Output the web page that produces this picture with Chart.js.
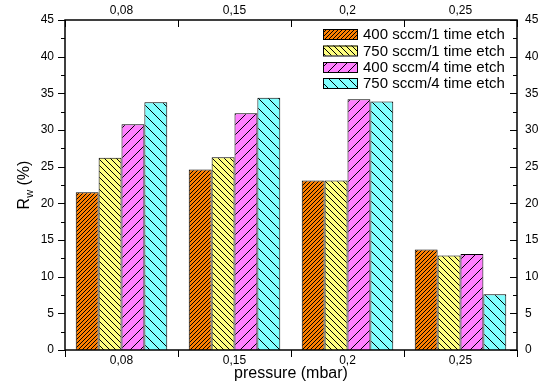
<!DOCTYPE html>
<html>
<head>
<meta charset="utf-8">
<script src="https://cdn.jsdelivr.net/npm/chart.js@4"></script>
<style>
  html, body { margin: 0; padding: 0; background: #fff; }
  #wrap { width: 542px; height: 383px; }
</style>
</head>
<body>
<div id="wrap"><canvas id="myChart" width="542" height="383"></canvas></div>
<script>
const categories = ['0,08', '0,15', '0,2', '0,25'];
const seriesNames = ['400 sccm/1 time etch', '750 sccm/1 time etch', '400 sccm/4 time etch', '750 sccm/4 time etch'];
const s400x1 = [21.5, 24.6, 23.1, 13.7];
const s750x1 = [26.2, 26.3, 23.1, 12.9];
const s400x4 = [30.8, 32.3, 34.2, 13.1];
const s750x4 = [33.8, 34.4, 33.9, 7.6];
const yTicks = [0, 5, 10, 15, 20, 25, 30, 35, 40, 45];

const FONT = 'Liberation Sans, Arial, sans-serif';

// hatch pattern: dir 1 = "/", -1 = "\"
function hatch(bg, dir, size) {
    const c = document.createElement('canvas');
    c.width = size; c.height = size;
    const g = c.getContext('2d');
    g.fillStyle = bg;
    g.fillRect(0, 0, size, size);
    g.strokeStyle = '#000';
    g.lineWidth = 1;
    g.beginPath();
    for (let k = -1; k <= 1; k++) {
        if (dir > 0) {
            g.moveTo(k * size, size);
            g.lineTo(k * size + size, 0);
        } else {
            g.moveTo(k * size, 0);
            g.lineTo(k * size + size, size);
        }
    }
    g.stroke();
    return g.createPattern(c, 'repeat');
}

const ctx = document.getElementById('myChart').getContext('2d');

const fills = [
    hatch('#ff8000', 1, 4),
    hatch('#ffff80', -1, 6),
    hatch('#ff80ff', 1, 10),
    hatch('#80ffff', -1, 10)
];

const allValues = [s400x1, s750x1, s400x4, s750x4];

const data = {
    labels: categories,
    datasets: allValues.map((vals, i) => ({
        label: seriesNames[i],
        data: vals,
        backgroundColor: fills[i],
        borderColor: '#000',
        borderWidth: 1,
        categoryPercentage: 0.81,
        barPercentage: 1.0
    }))
};

// frame, tick marks, legend and y title
const framePlugin = {
    id: 'frame',
    afterDraw(chart) {
        const c = chart.ctx;
        const a = chart.chartArea;
        const y = chart.scales.y;
        const x = chart.scales.x;
        c.save();
        c.strokeStyle = '#000';
        c.lineWidth = 1.5;
        c.strokeRect(a.left, a.top, a.right - a.left, a.bottom - a.top);
        c.lineWidth = 1;
        c.beginPath();
        // y ticks, major + minor
        for (let v = 0; v <= 45; v += 2.5) {
            const py = Math.round(y.getPixelForValue(v)) + 0.5;
            const len = (v % 5 === 0) ? 7 : 4;
            c.moveTo(a.left - len, py); c.lineTo(a.left, py);
            c.moveTo(a.right, py); c.lineTo(a.right - len, py);
        }
        // x ticks at category boundaries
        const step = x.getPixelForValue(1) - x.getPixelForValue(0);
        for (let i = 0; i <= categories.length; i++) {
            const px = Math.round(x.getPixelForValue(0) - step / 2 + i * step) + 0.5;
            c.moveTo(px, a.bottom); c.lineTo(px, a.bottom + 7);
            c.moveTo(px, a.top); c.lineTo(px, a.top + 7);
        }
        c.stroke();

        // legend
        c.font = '15px ' + FONT;
        c.textBaseline = 'middle';
        c.fillStyle = '#000';
        const rows = [34, 50.5, 67, 83];
        chart.data.datasets.forEach((ds, i) => {
            const ry = rows[i];
            c.fillStyle = ds.backgroundColor;
            c.fillRect(323, ry - 5, 34, 10);
            c.strokeRect(323.5, ry - 5 + 0.5, 34, 10);
            c.fillStyle = '#000';
            c.fillText(ds.label, 363, ry + 1);
        });

        // y axis title with subscript
        c.translate(24, (a.top + a.bottom) / 2);
        c.rotate(-Math.PI / 2);
        c.textBaseline = 'alphabetic';
        c.textAlign = 'left';
        c.font = '16px ' + FONT;
        const wR = c.measureText('R').width;
        c.font = '11px ' + FONT;
        const wW = c.measureText('w').width;
        c.font = '16px ' + FONT;
        const wP = c.measureText(' (%)').width;
        let sx = -(wR + wW + wP) / 2;
        c.fillText('R', sx, 5);
        c.font = '11px ' + FONT;
        c.fillText('w', sx + wR, 9);
        c.font = '16px ' + FONT;
        c.fillText(' (%)', sx + wR + wW, 5);
        c.restore();
    }
};

const config = {
    type: 'bar',
    data: data,
    options: {
        responsive: false,
        animation: false,
        layout: { padding: 0 },
        plugins: {
            legend: { display: false },
            tooltip: { enabled: false }
        },
        scales: {
            x: {
                position: 'bottom',
                grid: { display: false, drawTicks: false },
                border: { display: false },
                ticks: { color: '#000', font: { family: FONT, size: 12 }, padding: 3 },
                title: { display: true, text: 'pressure (mbar)', color: '#000', font: { family: FONT, size: 16 }, padding: { top: 0, bottom: 0 } },
                afterFit(s) { s.height = 33; }
            },
            x2: {
                position: 'top',
                type: 'category',
                labels: categories,
                offset: true,
                grid: { display: false, drawTicks: false },
                border: { display: false },
                ticks: { color: '#000', font: { family: FONT, size: 12 }, padding: 2 },
                afterFit(s) { s.height = 20; }
            },
            y: {
                position: 'left',
                min: 0,
                max: 45,
                grid: { display: false, drawTicks: false },
                border: { display: false },
                ticks: { color: '#000', font: { family: FONT, size: 12 }, stepSize: 5, padding: 11,
                    callback: (v) => yTicks.includes(v) ? String(v) : '' },
                afterFit(s) { s.width = 65; }
            },
            y2: {
                position: 'right',
                min: 0,
                max: 45,
                grid: { display: false, drawTicks: false },
                border: { display: false },
                ticks: { color: '#000', font: { family: FONT, size: 12 }, stepSize: 5, padding: 8 },
                afterFit(s) { s.width = 25; }
            }
        }
    },
    plugins: [framePlugin]
};

const myChart = new Chart(ctx, config);
</script>
</body>
</html>
